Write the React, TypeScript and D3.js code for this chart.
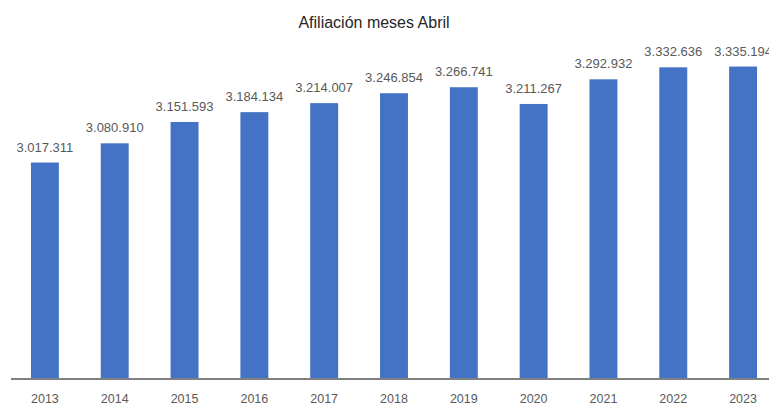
import React from "react";
import * as d3 from "d3";

const title = "Afiliación meses Abril";
const years = ["2013", "2014", "2015", "2016", "2017", "2018", "2019", "2020", "2021", "2022", "2023"];
const values = [3017311, 3080910, 3151593, 3184134, 3214007, 3246854, 3266741, 3211267, 3292932, 3332636, 3335194];
const yDomain = [2300000, 3400000];

const W = 769;
const H = 406;
const font = "'Liberation Sans', Arial, sans-serif";

const fmt = (v: number) => d3.format(",")(v).replace(/,/g, ".");

export default function App() {
  const x = d3.scaleBand<string>().domain(years).range([10, 778]).paddingInner(0.6).paddingOuter(0.3);
  const y = d3.scaleLinear().domain(yDomain).range([379, 47]);
  const base = y(yDomain[0]);
  return (
    <div style={{ position: "fixed", left: 0, top: 0 }}>
      <svg width={W} height={H} style={{ display: "block", overflow: "hidden", background: "#fff" }}>
        <text x={374} y={28} textAnchor="middle" fontFamily={font} fontSize={16} fill="#262626">
          {title}
        </text>
        {years.map((yr, i) => (
          <g key={yr}>
            <rect x={x(yr)!} y={y(values[i])} width={x.bandwidth()} height={base - y(values[i])} fill="#4472C4" />
            <text
              x={x(yr)! + x.bandwidth() / 2}
              y={y(values[i]) - 11}
              textAnchor="middle"
              fontFamily={font}
              fontSize={13}
              fill="#595959"
            >
              {fmt(values[i])}
            </text>
            <text
              x={x(yr)! + x.bandwidth() / 2}
              y={403}
              textAnchor="middle"
              fontFamily={font}
              fontSize={12.5}
              fill="#595959"
            >
              {yr}
            </text>
          </g>
        ))}
        <line x1={11} x2={W} y1={base} y2={base} stroke="#808080" strokeWidth={2} />
      </svg>
    </div>
  );
}
